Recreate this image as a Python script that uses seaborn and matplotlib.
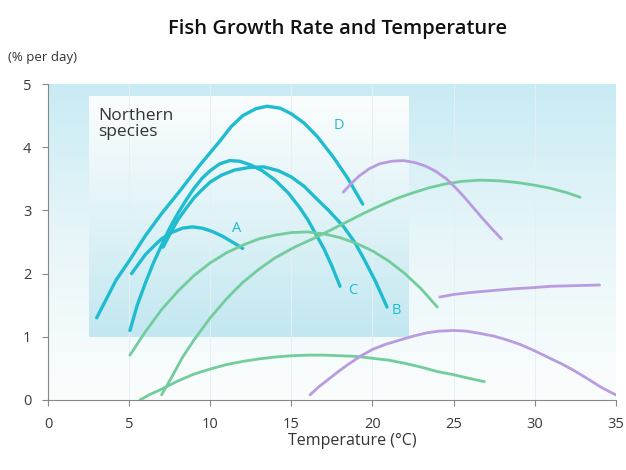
import numpy as np
import pandas as pd
import seaborn as sns
import matplotlib.pyplot as plt
from matplotlib.colors import LinearSegmentedColormap

# curves: (temperature, growth % per day)
curve_a = [(5.15, 2.0), (5.6, 2.16), (6.0, 2.3), (6.5, 2.43), (7.0, 2.55), (7.6, 2.65), (8.3, 2.72),
           (8.9, 2.74), (9.5, 2.72), (10.1, 2.67), (10.7, 2.6), (11.3, 2.51), (12.0, 2.4)]
curve_b = [(7.1, 2.42), (7.5, 2.62), (8.0, 2.85), (8.5, 3.03), (9.0, 3.2), (9.5, 3.33), (10.0, 3.45),
           (10.7, 3.56), (11.5, 3.64), (12.4, 3.68), (13.3, 3.69), (14.2, 3.63), (15.0, 3.53),
           (15.8, 3.38), (16.5, 3.2), (17.3, 3.0), (18.2, 2.75), (18.9, 2.5), (19.5, 2.22),
           (20.2, 1.87), (20.9, 1.47)]
curve_c = [(5.05, 1.1), (5.5, 1.5), (6.0, 1.85), (6.5, 2.17), (7.0, 2.45), (7.5, 2.72), (8.0, 2.95),
           (8.5, 3.16), (9.0, 3.35), (9.5, 3.51), (10.0, 3.63), (10.6, 3.74), (11.2, 3.79),
           (11.8, 3.78), (12.5, 3.72), (13.2, 3.63), (14.0, 3.48), (14.8, 3.28), (15.5, 3.05),
           (16.0, 2.86), (16.5, 2.63), (17.0, 2.4), (17.5, 2.12), (18.0, 1.8)]
curve_d = [(3.0, 1.3), (3.6, 1.6), (4.2, 1.9), (5.0, 2.2), (6.0, 2.6), (7.0, 2.95), (8.1, 3.3),
           (9.3, 3.7), (10.6, 4.1), (11.3, 4.33), (12.0, 4.5), (12.8, 4.61), (13.5, 4.65),
           (14.3, 4.62), (15.0, 4.53), (15.8, 4.38), (16.6, 4.17), (17.6, 3.84), (18.5, 3.5),
           (19.4, 3.1)]
green_1 = [(5.05, 0.71), (6.0, 1.08), (7.0, 1.43), (8.0, 1.72), (9.0, 1.97), (10.0, 2.17),
           (11.0, 2.33), (12.0, 2.45), (13.0, 2.55), (14.0, 2.61), (15.0, 2.65), (16.0, 2.66),
           (17.0, 2.63), (18.0, 2.57), (19.0, 2.48), (20.0, 2.36), (21.0, 2.2), (22.0, 2.0),
           (23.0, 1.76), (24.0, 1.47)]
green_2 = [(7.0, 0.08), (7.6, 0.35), (8.3, 0.68), (9.0, 0.95), (10.0, 1.3), (11.0, 1.6),
           (12.0, 1.86), (13.0, 2.07), (14.0, 2.25), (15.2, 2.42), (16.4, 2.56), (17.5, 2.7),
           (18.5, 2.83), (19.5, 2.96), (20.5, 3.08), (21.5, 3.19), (22.5, 3.28), (23.5, 3.36),
           (24.5, 3.42), (25.5, 3.46), (26.6, 3.48), (27.8, 3.47), (29.0, 3.44), (30.0, 3.4),
           (31.0, 3.35), (32.0, 3.28), (32.8, 3.21)]
green_3 = [(5.67, 0.0), (6.3, 0.09), (7.0, 0.17), (8.0, 0.3), (9.0, 0.41), (10.0, 0.49),
           (11.0, 0.56), (12.0, 0.61), (13.0, 0.65), (14.0, 0.68), (15.0, 0.7), (16.0, 0.71),
           (17.0, 0.71), (18.0, 0.7), (19.0, 0.69), (20.0, 0.66), (21.0, 0.63), (22.0, 0.58),
           (23.0, 0.52), (24.0, 0.45), (25.0, 0.4), (26.0, 0.34), (26.9, 0.29)]
purple_1 = [(18.2, 3.29), (18.7, 3.43), (19.2, 3.55), (19.8, 3.66), (20.45, 3.74), (21.2, 3.78),
            (21.9, 3.79), (22.6, 3.76), (23.3, 3.7), (23.9, 3.62), (24.56, 3.5), (25.2, 3.34),
            (25.7, 3.2), (26.2, 3.05), (26.8, 2.87), (27.4, 2.7), (27.95, 2.55)]
purple_2 = [(24.15, 1.63), (25.0, 1.67), (26.0, 1.7), (27.3, 1.73), (28.7, 1.76), (30.0, 1.78),
            (31.0, 1.8), (32.5, 1.81), (34.0, 1.82)]
purple_3 = [(16.15, 0.08), (16.7, 0.21), (17.3, 0.33), (18.0, 0.47), (18.6, 0.58), (19.3, 0.7),
            (20.0, 0.8), (20.8, 0.88), (21.7, 0.95), (22.5, 1.01), (23.3, 1.06), (24.1, 1.09),
            (25.0, 1.1), (25.8, 1.09), (26.7, 1.05), (27.5, 1.01), (28.3, 0.95), (29.1, 0.88),
            (29.9, 0.79), (30.7, 0.69), (31.6, 0.58), (32.4, 0.47), (33.3, 0.33), (34.1, 0.2),
            (35.0, 0.08)]

curves = {
    "A": ("northern", curve_a), "B": ("northern", curve_b),
    "C": ("northern", curve_c), "D": ("northern", curve_d),
    "g1": ("temperate", green_1), "g2": ("temperate", green_2), "g3": ("temperate", green_3),
    "p1": ("tropical", purple_1), "p2": ("tropical", purple_2), "p3": ("tropical", purple_3),
}
curve_labels = {"A": (11.6, 2.71), "B": (21.5, 1.42), "C": (18.8, 1.74), "D": (17.9, 4.35)}
palette = {"northern": "#1fbccf", "temperate": "#72cc9c", "tropical": "#b99be0"}

rows = []
for name, (group, pts) in curves.items():
    for t, g in pts:
        rows.append({"temp": t, "rate": g, "curve": name, "group": group})
df = pd.DataFrame(rows)

sns.set_theme(style="white")
plt.rcParams["font.family"] = ["Open Sans", "DejaVu Sans"]

fig = plt.figure(figsize=(6.26, 4.70), dpi=100)
ax = fig.add_axes([0.0767, 0.149, 0.907, 0.672])

# background gradients
outer = LinearSegmentedColormap.from_list("outer", ["#fbfdfd", "#e8f6f9", "#c9ebf4"])
inner = LinearSegmentedColormap.from_list("inner", ["#c2e7f1", "#e0f3f7", "#fbfdfd"])
grad = np.linspace(0, 1, 256).reshape(-1, 1)
ax.imshow(grad, extent=(0, 35.1, 0, 5), origin="lower", cmap=outer, aspect="auto", zorder=0)
ax.imshow(grad, extent=(2.5, 22.2, 1, 4.8), origin="lower", cmap=inner, aspect="auto", zorder=0.5)
for gx in [5, 10, 15, 20, 25, 30]:
    ax.axvline(gx, ymin=0, ymax=1, color="#e6eff1", lw=0.7, zorder=0.8)

for name in curves:
    sub = df[df["curve"] == name]
    lw = 2.4 if curves[name][0] == "northern" else 2.0
    sns.lineplot(data=sub, x="temp", y="rate", color=palette[curves[name][0]],
                 lw=lw, sort=False, estimator=None, ax=ax, zorder=3)

for lab, (lx, ly) in curve_labels.items():
    ax.text(lx, ly, lab, color=palette["northern"], fontsize=10.5, ha="center", va="center")

ax.text(3.1, 4.62, "Northern\nspecies", fontsize=12.5, color="#333333", va="top", ha="left",
        linespacing=1.0)

ax.set_xlim(0, 35)
ax.set_ylim(0, 5)
ax.set_xticks([0, 5, 10, 15, 20, 25, 30, 35])
ax.set_yticks([0, 1, 2, 3, 4, 5])
ax.set_xlabel("")
ax.set_ylabel("")
for side in ["top", "right"]:
    ax.spines[side].set_visible(False)
for side in ["left", "bottom"]:
    ax.spines[side].set_color("#888888")
    ax.spines[side].set_linewidth(0.8)
ax.tick_params(axis="both", which="major", length=4, width=0.8, color="#888888",
               labelsize=10.5, labelcolor="#3a3a3a", direction="out", bottom=True, left=True)
ax.tick_params(axis="x", pad=8)
ax.tick_params(axis="y", pad=8)

fig.text(0.54, 0.938, "Fish Growth Rate and Temperature", ha="center", va="center",
         fontsize=14.5, fontweight="semibold", color="#111111")
fig.text(0.013, 0.877, "(% per day)", ha="left", va="center", fontsize=9.5, color="#333333")
fig.text(0.563, 0.062, "Temperature (°C)", ha="center", va="center", fontsize=11.5, color="#333333")

fig.savefig("out.png", dpi=100)
